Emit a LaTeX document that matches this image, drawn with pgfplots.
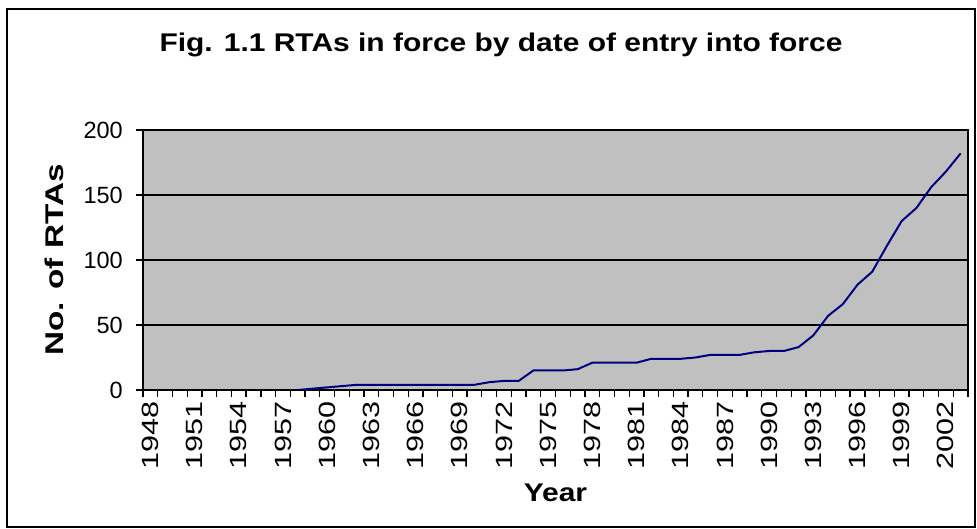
\documentclass[border=0pt]{standalone}
\usepackage{fontspec}
\setmainfont{Liberation Sans}
\usepackage{pgfplots}
\pgfplotsset{compat=1.18}
\usepackage{pgfplotstable}
\definecolor{plotgray}{HTML}{C0C0C0}
\definecolor{navyline}{HTML}{000080}
\newcommand\sx[1]{\scalebox{1.3}[1]{#1}}
\pgfplotstableread{
year value
1958 0
1959 1
1960 2
1961 3
1962 4
1963 4
1964 4
1965 4
1966 4
1967 4
1968 4
1969 4
1970 4
1971 6
1972 7
1973 7
1974 15
1975 15
1976 15
1977 16
1978 21
1979 21
1980 21
1981 21
1982 24
1983 24
1984 24
1985 25
1986 27
1987 27
1988 27
1989 29
1990 30
1991 30
1992 33
1993 42
1994 57
1995 66
1996 81
1997 91
1998 111
1999 130
2000 140
2001 156
2002 168
2003 182
}\rtadata
\begin{document}
\begin{tikzpicture}[x=1pt,y=1pt]
\useasboundingbox (0,0) rectangle (977,529);
\draw[line width=1.2pt] (7,2) rectangle (975,520);
\begin{axis}[
  at={(143pt,139pt)}, anchor=south west,
  scale only axis, width=825pt, height=260pt,
  xmin=0, xmax=56, ymin=0, ymax=200,
  axis background/.style={fill=plotgray},
  axis line style={line width=1.3pt},
  ytick={0,50,100,150,200},
  ymajorgrids, grid style={black, line width=1.3pt},
  tick align=outside, major tick length=7pt,
  tick style={black, line width=1.3pt},
  xtick pos=bottom, ytick pos=left,
  xtick={0,1,...,56}, xticklabels={},
  extra x ticks={0.5,3.5,...,54.5},
  extra x tick labels={\sx{1948},\sx{1951},\sx{1954},\sx{1957},\sx{1960},\sx{1963},\sx{1966},\sx{1969},\sx{1972},\sx{1975},\sx{1978},\sx{1981},\sx{1984},\sx{1987},\sx{1990},\sx{1993},\sx{1996},\sx{1999},\sx{2002}},
  extra x tick style={major tick length=0pt, tick label style={rotate=90, anchor=east, inner sep=0pt, inner xsep=11pt}},
  tick label style={font=\fontsize{23.5}{28}\selectfont},
  /pgf/number format/assume math mode=true,
  yticklabel style={inner sep=0pt, inner xsep=13pt},
  title={\scalebox{1.17}[1]{Fig. 1.1 RTAs in force by date of entry into force}},
  title style={at={(axis description cs:0.5,1)}, xshift=-54.5pt, yshift=72pt, anchor=base, font=\fontsize{25.6}{30}\selectfont\bfseries},
  xlabel={\scalebox{1.17}[1]{Year}},
  every axis x label/.style={at={(axis description cs:0.5,0)}, yshift=-112pt, anchor=base, font=\fontsize{25.6}{30}\selectfont\bfseries},
  ylabel={\scalebox{1.3}[1]{No. of RTAs}},
  every axis y label/.style={at={(axis description cs:0,0.5)}, xshift=-80pt, rotate=90, anchor=base, font=\fontsize{25.6}{30}\selectfont\bfseries},
]
\addplot[navyline, line width=2pt, no markers] table[x expr=\thisrow{year}-1947.5, y=value] {\rtadata};
\end{axis}
\end{tikzpicture}
\end{document}
